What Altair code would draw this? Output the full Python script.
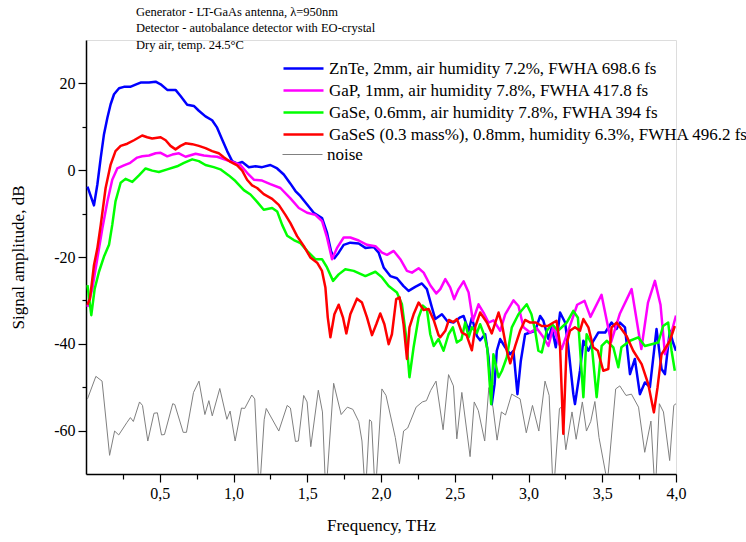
import altair as alt
import pandas as pd

SERIES = [
    "ZnTe, 2mm, air humidity 7.2%, FWHA 698.6 fs",
    "GaP, 1mm, air humidity 7.8%, FWHA 417.8 fs",
    "GaSe, 0.6mm, air humidity 7.8%, FWHA 394 fs",
    "GaSeS (0.3 mass%), 0.8mm, humidity 6.3%, FWHA 496.2 fs",
    "noise",
]
COLORS = ["#0000ff", "#ff00ff", "#00ff00", "#ff0000", "#808080"]

NOTES = [
    "Generator - LT-GaAs antenna, \u03bb=950nm",
    "Detector - autobalance detector with EO-crystal",
    "Dry air, temp. 24.5\u00b0C",
]

znte_f = [0.01, 0.054, 0.077, 0.1, 0.122, 0.145, 0.167, 0.19, 0.224, 0.257, 0.3, 0.336, 0.37, 0.427, 0.472, 0.506, 0.551, 0.607, 0.641, 0.686, 0.731, 0.765, 0.81, 0.855, 0.889, 0.923, 0.957, 0.991, 1.025, 1.059, 1.104, 1.149, 1.194, 1.25, 1.296, 1.341, 1.386, 1.42, 1.454, 1.499, 1.544, 1.6, 1.634, 1.661, 1.684, 1.713, 1.747, 1.792, 1.849, 1.894, 1.95, 1.984, 2.018, 2.063, 2.108, 2.153, 2.187, 2.232, 2.277, 2.311, 2.345, 2.368, 2.413, 2.45, 2.492, 2.537, 2.56, 2.594, 2.616, 2.65, 2.672, 2.706, 2.729, 2.751, 2.77, 2.785, 2.808, 2.842, 2.876, 2.898, 2.925, 2.948, 2.977, 3.011, 3.045, 3.079, 3.101, 3.135, 3.158, 3.185, 3.214, 3.248, 3.27, 3.304, 3.315, 3.349, 3.372, 3.406, 3.44, 3.473, 3.52, 3.563, 3.597, 3.62, 3.654, 3.688, 3.721, 3.755, 3.789, 3.823, 3.868, 3.902, 3.925, 3.958, 3.98, 4.0]
znte_a = [-3.8, -8.1, -3.3, 2.9, 8.3, 12.1, 15.2, 17.5, 18.9, 19.2, 19.2, 19.7, 20.2, 20.2, 20.4, 19.8, 18.5, 18.5, 17.1, 15.1, 14.8, 13.7, 12.4, 11.5, 9.8, 7.1, 4.4, 2.1, 1.5, 1.9, 0.7, 0.9, 0.7, 1.2, 0.4, -1.0, -3.1, -4.8, -6.0, -7.9, -9.8, -11.0, -14.4, -18.6, -20.3, -19.0, -17.2, -16.7, -16.9, -17.9, -17.7, -19.0, -22.4, -24.4, -24.9, -26.7, -27.8, -26.9, -26.1, -27.4, -31.6, -34.3, -33.2, -34.8, -35.1, -33.9, -33.6, -37.0, -34.0, -38.2, -39.2, -37.8, -43.1, -53.9, -49.3, -41.6, -38.9, -40.8, -42.4, -41.6, -51.6, -43.9, -37.8, -37.4, -37.0, -33.6, -34.7, -38.9, -36.2, -40.8, -32.8, -35.1, -40.8, -51.6, -53.9, -46.2, -39.3, -41.6, -39.3, -37.4, -37.4, -35.1, -36.6, -35.1, -36.2, -47.0, -43.5, -51.6, -48.9, -50.0, -36.6, -45.8, -47.0, -37.0, -39.7, -41.6]

gap_f = [0.01, 0.043, 0.077, 0.111, 0.145, 0.178, 0.212, 0.257, 0.3, 0.347, 0.381, 0.427, 0.472, 0.506, 0.551, 0.585, 0.63, 0.675, 0.743, 0.799, 0.844, 0.889, 0.957, 1.013, 1.047, 1.092, 1.138, 1.194, 1.25, 1.318, 1.386, 1.443, 1.499, 1.555, 1.6, 1.634, 1.668, 1.702, 1.747, 1.792, 1.849, 1.905, 1.962, 2.007, 2.041, 2.086, 2.131, 2.176, 2.21, 2.255, 2.289, 2.334, 2.375, 2.402, 2.436, 2.469, 2.496, 2.526, 2.56, 2.594, 2.623, 2.661, 2.695, 2.729, 2.763, 2.808, 2.842, 2.898, 2.932, 2.966, 3.011, 3.056, 3.101, 3.135, 3.169, 3.2, 3.225, 3.28, 3.33, 3.38, 3.42, 3.495, 3.56, 3.62, 3.699, 3.765, 3.81, 3.857, 3.895, 3.925, 3.96, 4.0]
gap_a = [-31.5, -27.3, -20.3, -13.4, -7.2, -2.2, 0.4, 1.1, 1.7, 2.9, 3.2, 3.4, 3.9, 4.0, 3.2, 3.6, 3.9, 3.1, 3.8, 3.4, 3.2, 3.1, 2.3, 1.7, 1.2, -0.6, -2.2, -2.4, -3.2, -4.1, -6.5, -8.7, -9.8, -10.3, -11.7, -15.5, -20.5, -17.9, -15.5, -15.5, -16.2, -17.2, -17.5, -19.0, -19.5, -18.6, -20.5, -23.2, -23.6, -22.6, -23.6, -26.5, -28.4, -27.4, -25.1, -27.0, -29.7, -27.4, -25.6, -28.2, -34.7, -30.9, -32.8, -35.1, -34.6, -37.0, -33.2, -30.0, -31.3, -36.2, -37.4, -36.4, -38.5, -40.5, -36.0, -39.5, -41.2, -36.0, -31.0, -30.1, -33.8, -28.7, -39.6, -33.0, -27.4, -41.2, -30.5, -25.5, -31.0, -42.4, -38.5, -33.5]

gase_f = [0.01, 0.036, 0.059, 0.088, 0.122, 0.156, 0.178, 0.2, 0.235, 0.268, 0.314, 0.359, 0.404, 0.449, 0.494, 0.551, 0.618, 0.664, 0.72, 0.765, 0.81, 0.866, 0.911, 0.968, 1.013, 1.07, 1.115, 1.16, 1.205, 1.262, 1.296, 1.33, 1.364, 1.409, 1.454, 1.499, 1.555, 1.6, 1.634, 1.675, 1.713, 1.758, 1.815, 1.894, 1.962, 2.007, 2.052, 2.108, 2.142, 2.171, 2.193, 2.221, 2.255, 2.284, 2.311, 2.334, 2.357, 2.39, 2.424, 2.458, 2.487, 2.514, 2.545, 2.571, 2.594, 2.616, 2.65, 2.672, 2.7, 2.72, 2.747, 2.762, 2.797, 2.82, 2.853, 2.887, 2.932, 2.988, 3.02, 3.045, 3.067, 3.09, 3.124, 3.16, 3.2, 3.259, 3.304, 3.335, 3.372, 3.394, 3.428, 3.462, 3.496, 3.53, 3.575, 3.609, 3.63, 3.688, 3.744, 3.789, 3.835, 3.88, 3.913, 3.947, 3.97, 3.992]
gase_a = [-26.5, -33.4, -27.3, -23.4, -19.9, -17.2, -12.6, -7.2, -2.9, -2.0, -2.7, -1.2, 0.4, -0.1, -0.4, 0.2, 0.9, 1.7, 2.5, 2.1, 1.2, 0.7, 0.2, -1.2, -2.5, -4.6, -5.6, -7.3, -9.1, -8.7, -9.5, -12.6, -15.1, -16.1, -16.8, -18.6, -20.5, -20.5, -22.4, -25.5, -24.0, -22.8, -23.2, -24.4, -23.4, -24.7, -26.7, -28.2, -30.9, -38.5, -47.7, -40.8, -33.9, -31.2, -32.0, -37.8, -40.5, -38.9, -41.6, -37.8, -36.2, -39.7, -39.0, -35.1, -38.5, -36.2, -37.5, -35.5, -38.0, -41.0, -53.9, -42.4, -47.7, -46.2, -43.1, -36.2, -33.2, -30.9, -33.2, -37.0, -41.6, -42.0, -37.0, -35.5, -37.0, -35.1, -32.4, -34.0, -52.3, -37.8, -40.0, -52.3, -40.5, -39.3, -40.8, -45.4, -40.8, -39.3, -38.5, -40.5, -40.1, -39.7, -35.9, -35.1, -41.6, -46.2]

gases_f = [0.01, 0.027, 0.054, 0.077, 0.1, 0.133, 0.167, 0.2, 0.235, 0.28, 0.325, 0.381, 0.415, 0.449, 0.506, 0.54, 0.573, 0.607, 0.641, 0.675, 0.72, 0.765, 0.81, 0.855, 0.9, 0.934, 0.98, 1.025, 1.059, 1.092, 1.126, 1.16, 1.205, 1.262, 1.307, 1.352, 1.386, 1.431, 1.477, 1.521, 1.567, 1.6, 1.623, 1.639, 1.657, 1.684, 1.713, 1.742, 1.765, 1.792, 1.837, 1.871, 1.905, 1.939, 1.968, 1.995, 2.023, 2.052, 2.074, 2.103, 2.126, 2.153, 2.176, 2.193, 2.221, 2.255, 2.289, 2.323, 2.357, 2.39, 2.402, 2.436, 2.46, 2.49, 2.515, 2.548, 2.58, 2.616, 2.64, 2.672, 2.718, 2.751, 2.797, 2.82, 2.853, 2.876, 2.91, 2.943, 2.977, 3.011, 3.05, 3.09, 3.13, 3.169, 3.19, 3.213, 3.236, 3.259, 3.281, 3.315, 3.349, 3.372, 3.406, 3.439, 3.47, 3.507, 3.541, 3.563, 3.597, 3.63, 3.665, 3.71, 3.767, 3.812, 3.85, 3.875, 3.902, 3.925, 3.958, 3.992]
gases_a = [-31.0, -29.6, -21.9, -18.0, -12.6, -4.1, 1.3, 4.4, 5.6, 6.1, 6.9, 8.0, 7.6, 7.3, 7.6, 6.9, 5.6, 4.8, 5.6, 6.2, 6.0, 5.6, 5.1, 4.4, 3.9, 3.0, 1.9, 1.1, -0.1, -2.2, -3.5, -4.1, -5.5, -6.6, -8.0, -10.3, -12.2, -15.2, -17.5, -20.1, -21.3, -23.2, -27.0, -33.9, -38.5, -33.2, -31.0, -33.9, -37.6, -33.2, -29.6, -30.5, -33.9, -38.0, -35.5, -33.0, -35.5, -40.1, -37.8, -29.7, -29.3, -35.5, -43.5, -36.2, -33.2, -30.5, -32.2, -32.0, -34.5, -38.0, -38.5, -37.0, -34.5, -35.0, -34.3, -37.4, -38.0, -41.5, -36.0, -32.8, -35.1, -37.6, -32.8, -35.5, -41.6, -44.5, -40.5, -37.0, -34.5, -35.1, -35.1, -35.9, -35.9, -35.1, -34.7, -40.0, -60.7, -40.0, -37.0, -36.2, -37.0, -34.3, -36.2, -40.8, -41.6, -46.2, -45.8, -36.2, -35.1, -36.6, -38.2, -41.6, -44.7, -49.3, -55.8, -50.0, -42.4, -41.2, -39.3, -35.9]

noise_f = [0.01, 0.067, 0.109, 0.16, 0.194, 0.222, 0.278, 0.301, 0.321, 0.363, 0.383, 0.419, 0.461, 0.484, 0.512, 0.532, 0.588, 0.602, 0.659, 0.681, 0.729, 0.766, 0.806, 0.833, 0.856, 0.907, 0.955, 0.977, 1.011, 1.054, 1.076, 1.124, 1.144, 1.175, 1.208, 1.222, 1.307, 1.364, 1.386, 1.42, 1.44, 1.476, 1.499, 1.524, 1.575, 1.603, 1.626, 1.679, 1.73, 1.772, 1.809, 1.849, 1.871, 1.894, 1.922, 1.936, 1.961, 2.006, 2.034, 2.097, 2.125, 2.153, 2.181, 2.238, 2.28, 2.308, 2.336, 2.373, 2.421, 2.458, 2.491, 2.514, 2.548, 2.604, 2.632, 2.66, 2.703, 2.731, 2.759, 2.787, 2.816, 2.844, 2.886, 2.943, 2.985, 3.027, 3.07, 3.112, 3.14, 3.168, 3.21, 3.224, 3.253, 3.295, 3.323, 3.365, 3.393, 3.422, 3.45, 3.478, 3.535, 3.591, 3.619, 3.661, 3.698, 3.746, 3.788, 3.83, 3.859, 3.887, 3.915, 3.957, 3.985, 4.0]
noise_a = [-52.7, -47.5, -48.6, -65.7, -60.1, -61.0, -58.1, -57.0, -57.9, -53.4, -54.2, -62.4, -56.0, -55.9, -61.0, -60.9, -53.8, -54.0, -60.4, -60.4, -51.2, -48.6, -56.3, -53.1, -56.6, -50.3, -57.4, -55.5, -62.4, -54.8, -54.9, -51.8, -52.7, -75.0, -57.5, -54.9, -60.1, -54.2, -54.8, -62.5, -62.4, -51.9, -53.4, -63.7, -50.7, -55.7, -75.0, -49.1, -56.3, -54.6, -55.1, -57.9, -62.4, -75.0, -57.5, -57.9, -75.0, -50.4, -51.9, -61.6, -67.6, -60.1, -59.4, -54.6, -53.4, -53.1, -50.8, -48.6, -59.8, -47.1, -49.7, -61.9, -51.2, -66.0, -53.4, -55.4, -62.4, -50.1, -54.6, -62.2, -55.7, -56.4, -51.6, -52.7, -60.5, -54.2, -60.1, -48.6, -51.9, -75.0, -54.9, -54.6, -64.4, -55.7, -62.0, -53.4, -60.1, -57.9, -53.3, -61.6, -72.0, -50.4, -49.7, -51.9, -51.6, -54.6, -65.0, -57.8, -75.0, -53.8, -55.7, -66.9, -54.2, -53.8]

F_TICKS = [0.25 * k for k in range(1, 17)]
A_TICKS = [-60, -50, -40, -30, -20, -10, 0, 10, 20]

FONT = "Liberation Serif"
major_x = "abs(datum.value*2 - round(datum.value*2)) < 0.001"
major_y = "datum.value % 20 == 0"

x_enc = alt.X("f:Q", scale=alt.Scale(domain=[0, 4], nice=False, zero=False),
              axis=alt.Axis(
                  values=F_TICKS, title="Frequency, THz", grid=False,
                  labelExpr=f"{major_x} ? replace(format(datum.value, '.1f'), '.', ',') : ''",
                  tickSize={"condition": {"test": major_x, "value": 8}, "value": 5},
                  labelOverlap=False, labelFlush=False, labelFont=FONT, labelFontSize=16,
                  labelColor="black", labelPadding=3, titleFont=FONT, titleFontSize=17,
                  titleFontWeight="normal", titleColor="black", titlePadding=16,
                  domainColor="black", tickColor="black", domainWidth=1.5, tickWidth=1.2))
y_enc = alt.Y("a:Q", scale=alt.Scale(domain=[-70, 30], nice=False, zero=False),
              axis=alt.Axis(
                  values=A_TICKS, title="Signal amplitude, dB", grid=False,
                  labelExpr=f"{major_y} ? (datum.value < 0 ? '-' + abs(datum.value) : '' + datum.value) : ''",
                  tickSize={"condition": {"test": major_y, "value": 8}, "value": 4},
                  labelOverlap=False, labelFlush=False, labelFont=FONT, labelFontSize=16,
                  labelColor="black", labelPadding=3, titleFont=FONT, titleFontSize=17,
                  titleFontWeight="normal", titleColor="black", titlePadding=26,
                  domainColor="black", tickColor="black", domainWidth=1.5, tickWidth=1.2))

series_data = [
    (SERIES[4], noise_f, noise_a, COLORS[4], 1.0, 94),
    (SERIES[0], znte_f, znte_a, COLORS[0], 2.5, 7),
    (SERIES[1], gap_f, gap_a, COLORS[1], 2.5, 29),
    (SERIES[2], gase_f, gase_a, COLORS[2], 2.5, 51),
    (SERIES[3], gases_f, gases_a, COLORS[3], 2.5, 73),
]

layers = []
for name, fs, amps, col, w, ly in series_data:
    d = pd.DataFrame({"series": name, "f": fs, "a": amps, "i": range(len(fs))})
    legend = alt.Legend(
        title=None, orient="none", legendX=196, legendY=ly,
        symbolType="stroke", symbolSize=1600, symbolStrokeWidth=w,
        labelFont=FONT, labelFontSize=17, labelColor="black", labelLimit=600,
        labelOffset=4, padding=0, symbolOpacity=1,
    )
    layers.append(
        alt.Chart(d).mark_line(clip=True, strokeJoin="round", strokeWidth=w).encode(
            x=x_enc, y=y_enc,
            color=alt.Color("series:N", scale=alt.Scale(domain=[name], range=[col]), legend=legend),
            order="i:Q",
        )
    )

chart = alt.layer(*layers).resolve_scale(color="independent").properties(
    width=590, height=434,
    title=alt.TitleParams(text=NOTES, anchor="start", frame="group", dx=50, offset=-11,
                          font=FONT, fontSize=12.5, fontWeight="normal",
                          color="black", lineHeight=16.5, align="left"),
    autosize=alt.AutoSizeParams(type="none"),
    padding={"left": 86, "top": 40, "right": 70, "bottom": 68},
).configure_view(stroke=None).configure(background="white")

chart.save("out.html", embed_options={"renderer": "svg", "actions": False})
